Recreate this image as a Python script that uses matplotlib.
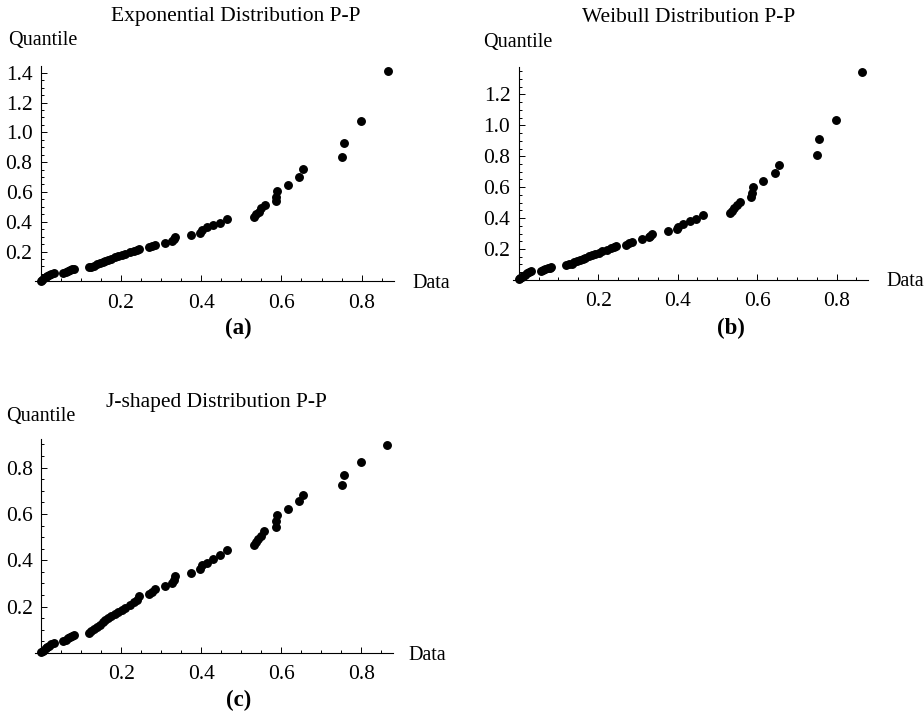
import matplotlib
matplotlib.use("Agg")
import matplotlib.pyplot as plt
from matplotlib.ticker import MultipleLocator, FixedLocator

# sorted sample (shared by all three panels)
data_x = [0.001, 0.004, 0.008, 0.012, 0.016, 0.021, 0.026, 0.032,
          0.055, 0.062, 0.067, 0.073, 0.078, 0.082,
          0.120, 0.126, 0.133, 0.140, 0.147, 0.154, 0.161, 0.168, 0.176,
          0.184, 0.193, 0.202, 0.211, 0.222, 0.232, 0.240, 0.246,
          0.270, 0.277, 0.285, 0.310, 0.327, 0.331, 0.335, 0.375,
          0.398, 0.402, 0.414, 0.430, 0.446, 0.465,
          0.531, 0.537, 0.543, 0.550, 0.558, 0.586, 0.587, 0.589,
          0.616, 0.645, 0.654, 0.752, 0.756, 0.799, 0.865]

# theoretical quantiles
q_exp = [0.004, 0.011, 0.019, 0.027, 0.035, 0.042, 0.049, 0.056,
         0.059, 0.065, 0.070, 0.075, 0.080, 0.085,
         0.094, 0.099, 0.105, 0.113, 0.121, 0.129, 0.137, 0.144, 0.152,
         0.160, 0.168, 0.176, 0.185, 0.194, 0.203, 0.211, 0.218,
         0.228, 0.234, 0.241, 0.260, 0.272, 0.283, 0.295, 0.311,
         0.327, 0.343, 0.364, 0.378, 0.394, 0.418,
         0.432, 0.450, 0.468, 0.490, 0.512, 0.537, 0.568, 0.606,
         0.644, 0.698, 0.752, 0.834, 0.926, 1.076, 1.41]

q_weib = [0.004, 0.011, 0.019, 0.027, 0.035, 0.042, 0.049, 0.056,
          0.059, 0.065, 0.070, 0.075, 0.080, 0.085,
          0.094, 0.100, 0.106, 0.114, 0.122, 0.130, 0.138, 0.145, 0.153,
          0.161, 0.169, 0.177, 0.186, 0.195, 0.204, 0.212, 0.219,
          0.229, 0.236, 0.244, 0.262, 0.276, 0.286, 0.298, 0.316,
          0.329, 0.343, 0.360, 0.380, 0.394, 0.418,
          0.431, 0.448, 0.466, 0.485, 0.506, 0.534, 0.565, 0.601,
          0.640, 0.690, 0.741, 0.806, 0.909, 1.034, 1.347]

q_jshape = [0.003, 0.008, 0.014, 0.020, 0.026, 0.032, 0.038, 0.045,
            0.053, 0.058, 0.063, 0.068, 0.073, 0.078,
            0.088, 0.095, 0.103, 0.112, 0.122, 0.132, 0.141, 0.150, 0.159,
            0.168, 0.177, 0.186, 0.196, 0.207, 0.218, 0.230, 0.244,
            0.254, 0.264, 0.276, 0.287, 0.304, 0.317, 0.330, 0.347,
            0.364, 0.378, 0.389, 0.405, 0.424, 0.443,
            0.466, 0.478, 0.491, 0.506, 0.528, 0.544, 0.571, 0.597,
            0.623, 0.656, 0.682, 0.725, 0.768, 0.822, 0.899]

W, H = 924, 715
plt.rcParams['font.family'] = ['Liberation Serif', 'DejaVu Serif']

fig = plt.figure(figsize=(W / 100, H / 100), dpi=100)


def px(x, y):
    return x / W, 1 - y / H


def pp_panel(rect, yvals, ylim, yticks, title, title_xy, quant_xy, data_xy, tag, tag_xy):
    left, top, right, bottom = rect
    ax = fig.add_axes([left / W, 1 - bottom / H, (right - left) / W, (bottom - top) / H])
    ax.plot(data_x, yvals, 'o', color='black', markersize=5.4, clip_on=False)
    ax.set_xlim(-0.015, 0.88)
    ax.set_ylim(*ylim)
    for s in ['top', 'right']:
        ax.spines[s].set_visible(False)
    ax.spines['left'].set_position(('data', 0))
    ax.spines['bottom'].set_position(('data', 0))
    for s in ['left', 'bottom']:
        ax.spines[s].set_linewidth(0.8)
    ax.xaxis.set_major_locator(FixedLocator([0.2, 0.4, 0.6, 0.8]))
    ax.xaxis.set_minor_locator(MultipleLocator(0.05))
    ax.yaxis.set_major_locator(FixedLocator(yticks))
    ax.yaxis.set_minor_locator(MultipleLocator(0.05))
    ax.set_xticklabels([f'{t:.1f}' for t in [0.2, 0.4, 0.6, 0.8]])
    ax.set_yticklabels([f'{t:.1f}' for t in yticks])
    ax.tick_params(which='both', direction='in', width=0.7, labelsize=15.5)
    ax.tick_params(which='major', length=4.5)
    ax.tick_params(which='minor', length=2.5)
    ax.tick_params(axis='x', pad=9)
    ax.tick_params(axis='y', pad=6)
    ax.set_facecolor('none')

    fig.text(*px(*title_xy), title, ha='center', va='center', fontsize=15.5)
    fig.text(*px(*quant_xy), 'Quantile', ha='left', va='center', fontsize=14.5)
    fig.text(*px(*data_xy), 'Data', ha='left', va='center', fontsize=14.5)
    fig.text(*px(*tag_xy), tag, ha='center', va='center', fontsize=16.5, fontweight='bold')
    return ax


pp_panel((34.8, 66, 393.7, 282.8), q_exp, (-0.01, 1.445), [0.2, 0.4, 0.6, 0.8, 1.0, 1.2, 1.4],
         'Exponential Distribution P-P', (236, 16), (8, 41), (412, 283), '(a)', (238, 328))
pp_panel((512.7, 66.7, 868.3, 281.5), q_weib, (-0.01, 1.379), [0.2, 0.4, 0.6, 0.8, 1.0, 1.2],
         'Weibull Distribution P-P', (689, 18), (483, 43), (886, 281), '(b)', (731, 328))
pp_panel((35, 439.3, 393.3, 654.6), q_jshape, (-0.007, 0.922), [0.2, 0.4, 0.6, 0.8],
         'J-shaped Distribution P-P', (216, 402), (6, 416), (408, 655), '(c)', (239, 700))

fig.savefig('out.png', dpi=100)
